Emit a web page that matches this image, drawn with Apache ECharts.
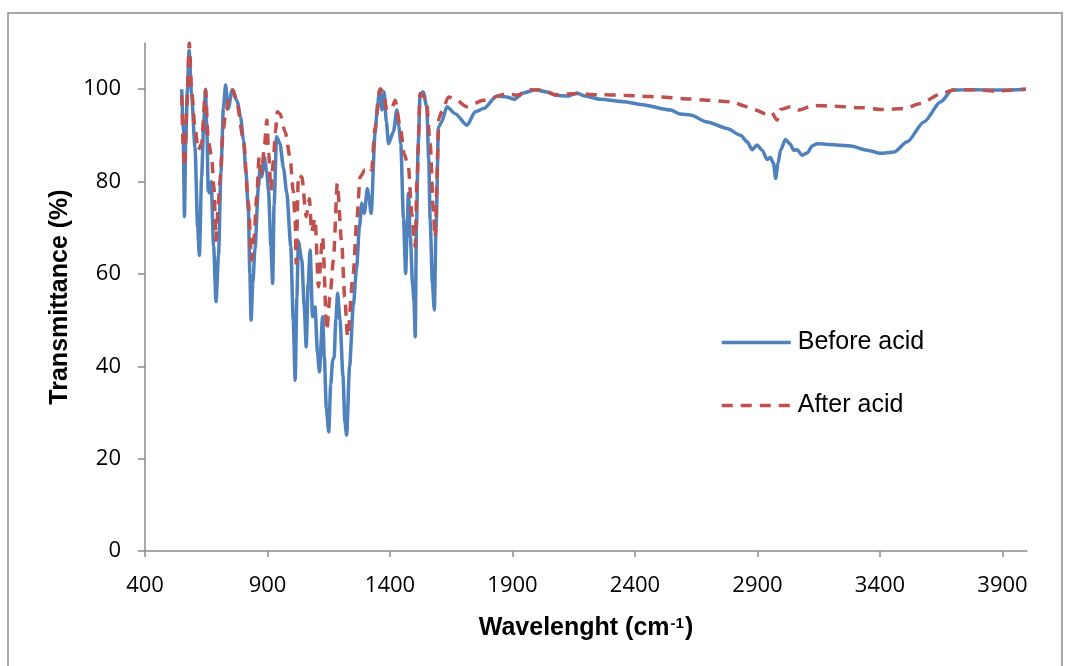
<!DOCTYPE html>
<html>
<head>
<meta charset="utf-8">
<script src="https://cdn.jsdelivr.net/npm/echarts@6/dist/echarts.min.js"></script>
<style>
    html, body { margin: 0; padding: 0; background: #fff; }
    #line-container { width: 1073px; height: 666px; }
</style>
</head>
<body>
<div id="line-container"></div>
<script>
// wavenumber (cm-1) / transmittance (%)
const beforeX = [550, 556, 561, 566, 573, 580, 590, 604, 615, 622, 631, 640, 647, 653, 658, 664, 670, 680, 690, 700,
    710, 720, 729, 740, 756, 777, 790, 802, 812, 822, 828, 833, 840, 849, 863, 870, 876, 887, 897, 904,
    914, 921, 927, 937, 951, 965, 979, 995, 1005, 1013, 1020, 1026, 1040, 1050, 1058, 1066, 1074, 1084, 1094, 1104,
    1112, 1125, 1132, 1140, 1150, 1158, 1166, 1172, 1179, 1186, 1196, 1208, 1216, 1223, 1235, 1250, 1264, 1275, 1285, 1295,
    1308, 1315, 1323, 1339, 1350, 1357, 1367, 1376, 1385, 1394, 1414, 1428, 1436, 1444, 1455, 1464, 1470, 1475, 1483, 1492,
    1498, 1503, 1508, 1515, 1523, 1536, 1550, 1558, 1564, 1573, 1581, 1588, 1598, 1611, 1632, 1666, 1714, 1748, 1782, 1836,
    1877, 1907, 1945, 1993, 2040, 2074, 2129, 2163, 2190, 2259, 2354, 2422, 2545, 2585, 2626, 2694, 2776, 2831, 2858, 2878,
    2898, 2919, 2939, 2953, 2965, 2974, 2984, 2994, 3014, 3032, 3048, 3062, 3082, 3103, 3123, 3144, 3280, 3348, 3403, 3457,
    3511, 3579, 3648, 3695, 3783, 3893, 3995];
const beforeY = [100, 90, 72.4, 88, 100, 108.4, 99, 87.5, 70, 64, 81, 93, 100, 90, 78, 77.5, 80, 66, 54, 64,
    82, 96, 100.9, 95.8, 99.9, 97.3, 94, 89, 82, 73.8, 60, 50, 58, 65.5, 78.9, 83.2, 81, 85.3, 82, 78.1,
    66, 57.9, 75, 89.7, 88.2, 83, 77.4, 66, 50, 37, 55, 67, 63, 53, 44.2, 58, 65.2, 50.7, 52.9, 43,
    38.8, 50.7, 42, 31, 25.8, 36, 41.3, 42, 50, 55.8, 50, 38, 28, 25.1, 40, 53, 61.5, 70, 75.3, 73.1,
    78.5, 76, 73.1, 90.4, 97, 99.8, 95.5, 99.4, 93, 88.2, 90.8, 95.5, 92, 88.2, 72, 60.1, 70, 77.4, 68, 57.9,
    54, 46.4, 70, 88, 99, 99.4, 96.2, 85, 71.6, 58, 52.2, 70, 91.8, 92.9, 96.2, 94.7, 92.2, 95.1, 95.8, 98.5,
    98.3, 97.8, 99.2, 99.9, 99.4, 98.7, 98.5, 99.2, 98.6, 97.8, 97.3, 96.7, 95.5, 94.6, 94.4, 92.9, 91.5, 90, 88.6, 86.9,
    87.9, 86.8, 84.8, 85.2, 84, 80.7, 84, 86.8, 89.1, 88.2, 86.8, 86.9, 85.7, 86.2, 87.7, 88.2, 87.7, 86.8, 86.1, 86.4,
    88.6, 92.9, 97.3, 99.8, 99.9, 99.8, 100];

const afterX = [550, 556, 561, 570, 581, 590, 604, 617, 631, 647, 658, 672, 681, 690, 698, 706, 719, 731, 747, 760,
    774, 802, 822, 835, 845, 856, 866, 876, 888, 897, 905, 914, 923, 933, 940, 951, 972, 992, 1005, 1013,
    1017, 1026, 1040, 1058, 1071, 1080, 1094, 1108, 1125, 1142, 1155, 1169, 1185, 1203, 1215, 1227, 1250, 1265, 1278, 1298,
    1312, 1325, 1339, 1360, 1373, 1387, 1407, 1421, 1442, 1458, 1475, 1489, 1503, 1510, 1523, 1548, 1564, 1577, 1584, 1600,
    1611, 1639, 1666, 1714, 1782, 1877, 1918, 1973, 2027, 2074, 2149, 2259, 2354, 2422, 2504, 2612, 2694, 2790, 2858, 2892,
    2933, 2956, 2980, 2994, 3035, 3069, 3130, 3211, 3321, 3416, 3497, 3566, 3648, 3701, 3783, 3865, 3995];
const afterY = [98.7, 87.5, 83.2, 95.5, 110, 99.8, 91.8, 86.8, 88.2, 99.8, 89, 85.3, 78.9, 67.3, 74, 80.3, 91.1, 95.5, 99, 99.8,
    97.3, 89, 75.3, 63, 68, 76.7, 85.3, 81.8, 88, 93.3, 86, 78.1, 84, 91.1, 95.1, 94.7, 90.8, 85.3, 78, 71.6,
    62.3, 81.4, 81, 72.4, 76.3, 69.1, 72, 57.2, 68, 47.8, 55, 63, 79.6, 66.6, 55, 46.4, 60.1, 72, 81, 82.5,
    83.2, 82.5, 91.8, 100.1, 99.4, 95.5, 95.8, 97.6, 91.8, 86, 83.2, 73.1, 65.9, 80, 99, 98, 88.2, 73.8, 68, 93.7,
    95.1, 98.3, 97.8, 96.2, 97.6, 99, 98.7, 99.9, 99.8, 98.8, 99, 98.8, 98.7, 98.5, 98.3, 97.9, 97.6, 97.3, 96.2, 95.5,
    94.7, 95.1, 93.3, 95.6, 96.2, 95.5, 96.5, 96.3, 96, 95.6, 95.8, 96.9, 99, 99.8, 99.9, 99.6, 100];

const xTicks = [400, 900, 1400, 1900, 2400, 2900, 3400, 3900];
const yTicks = [0, 20, 40, 60, 80, 100];

const chartDom = document.getElementById('line-container');
const myChart = echarts.init(chartDom, null, {renderer: 'canvas'});

const axisGrey = '#8c8c8c';
const tickFont = {fontFamily: 'Open Sans', fontSize: 22, color: '#000'};

const options = {
    animation: false,
    backgroundColor: '#fff',
    graphic: [{ // outer chart frame
        type: 'rect',
        silent: true,
        z: -1,
        shape: {x: 8, y: 13, width: 1054, height: 700},
        style: {fill: 'none', stroke: '#8c8c8c', lineWidth: 1.5}
    }],
    grid: {left: 145, right: 46, top: 43, bottom: 115},
    legend: {
        orient: 'vertical',
        left: 720,
        top: 330,
        padding: 0,
        itemWidth: 69,
        itemHeight: 30,
        itemGap: 38,
        itemStyle: {opacity: 0}, // line only, no marker
        lineStyle: {width: 3.5},
        textStyle: {fontFamily: 'Liberation Sans', fontSize: 25, color: '#000', padding: [0, 0, 0, 2]},
        data: ['Before acid', 'After acid']
    },
    xAxis: {
        type: 'value',
        min: 400,
        max: 4000,
        name: 'Wavelenght (cm{sup|-1})',
        nameLocation: 'middle',
        nameGap: 65,
        nameTextStyle: {
            fontFamily: 'Liberation Sans', fontSize: 25, fontWeight: 'bold', color: '#000',
            rich: {sup: {fontFamily: 'Liberation Sans', fontSize: 15, fontWeight: 'bold', color: '#000', verticalAlign: 'top', padding: [0, 1, 10, 1]}}
        },
        axisLine: {lineStyle: {color: axisGrey, width: 1.5}},
        axisTick: {show: true, length: 6, lineStyle: {color: axisGrey, width: 1.5}, customValues: xTicks},
        axisLabel: {...tickFont, margin: 24, customValues: xTicks, formatter: v => String(v)},
        splitLine: {show: false}
    },
    yAxis: {
        type: 'value',
        min: 0,
        max: 110,
        name: 'Transmittance (%)',
        nameLocation: 'middle',
        nameGap: 72,
        nameTextStyle: {fontFamily: 'Liberation Sans', fontSize: 25, fontWeight: 'bold', color: '#000'},
        axisLine: {show: true, lineStyle: {color: axisGrey, width: 1.5}},
        axisTick: {show: true, length: 7, lineStyle: {color: axisGrey, width: 1.5}, customValues: yTicks},
        axisLabel: {...tickFont, margin: 24, customValues: yTicks},
        splitLine: {show: false}
    },
    series: [
        {
            name: 'Before acid',
            type: 'line',
            symbol: 'none',
            smooth: 0.25,
            smoothMonotone: 'x',
            data: beforeX.map((x, i) => [x, beforeY[i]]),
            lineStyle: {color: '#4f81bd', width: 3.5},
            itemStyle: {color: '#4f81bd'}
        },
        {
            name: 'After acid',
            type: 'line',
            symbol: 'none',
            smooth: 0.25,
            smoothMonotone: 'x',
            data: afterX.map((x, i) => [x, afterY[i]]),
            lineStyle: {color: '#c0504d', width: 3.5, type: [11, 8]},
            itemStyle: {color: '#c0504d'}
        }
    ]
};

myChart.setOption(options);

window.addEventListener('resize', () => {
    myChart.resize();
});
</script>
</body>
</html>
